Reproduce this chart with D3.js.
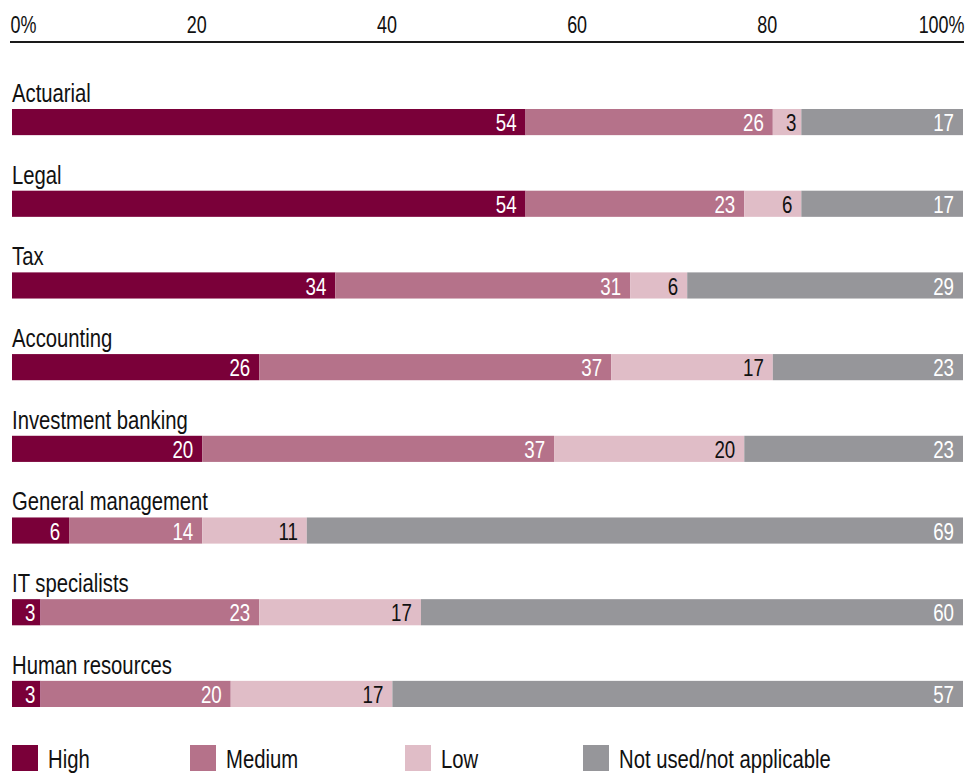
<!DOCTYPE html>
<html>
<head>
<meta charset="utf-8">
<script src="https://cdn.jsdelivr.net/npm/d3@7"></script>
<style>
  body { margin: 0; background: #fff; }
  text { font-family: "Liberation Sans", Arial, sans-serif; }
</style>
</head>
<body>
<div id="chart"></div>
<script>
// data
const categories = ["Actuarial", "Legal", "Tax", "Accounting", "Investment banking",
  "General management", "IT specialists", "Human resources"];
const seriesNames = ["High", "Medium", "Low", "Not used/not applicable"];
const high   = [54, 54, 34, 26, 20, 6, 3, 3];
const medium = [26, 23, 31, 37, 37, 14, 23, 20];
const low    = [3, 6, 6, 17, 20, 11, 17, 17];
const notUsed = [17, 17, 29, 23, 23, 69, 60, 57];
const tickValues = [0, 20, 40, 60, 80, 100];

const colors = ["#7a0039", "#b5728a", "#e0bdc7", "#96969a"];
const labelColors = ["#fff", "#fff", "#111", "#fff"];

const width = 966, height = 774;
const sx = 0.78; // squeeze text to look like a condensed face

const svg = d3.select("#chart")
  .append("svg")
  .attr("width", width)
  .attr("height", height);

// scales
const x = d3.scaleLinear().domain([0, 100]).range([12, 963]);
const y = d3.scaleBand().domain(categories).range([109, 707]).paddingInner(0.68).paddingOuter(0);

// top axis
const xAxis = d3.axisTop(x)
  .tickValues(tickValues)
  .tickSize(0)
  .tickPadding(9)
  .tickFormat(d => (d === 0 || d === 100) ? d + "%" : d);

const axisG = svg.append("g")
  .attr("transform", "translate(0,42)")
  .call(xAxis);

axisG.select(".domain").remove();
axisG.append("line")
  .attr("x1", 10).attr("x2", 964)
  .attr("stroke", "#1a1a1a").attr("stroke-width", 2);

axisG.selectAll(".tick text")
  .attr("fill", "#111")
  .style("font-size", "23px")
  .attr("text-anchor", d => d === 0 ? "start" : d === 100 ? "end" : "middle")
  .attr("x", d => d === 0 ? -2 : d === 100 ? 1 : -6)
  .attr("transform", `scale(${sx},1)`)
  .attr("x", function(d) {
    const off = d === 0 ? -2 : d === 100 ? 1 : -6;
    return off / sx;
  });

// build stacked rows
const rows = categories.map((c, i) => {
  const vals = [high[i], medium[i], low[i], notUsed[i]];
  let start = 0;
  return vals.map((v, k) => {
    let end = Math.min(100, start + v);
    if (k === vals.length - 1) end = 100; // last segment fills the bar
    const seg = { cat: c, k, value: v, x0: start, x1: end };
    start = end;
    return seg;
  });
});

// category labels
svg.selectAll(".cat-label")
  .data(categories)
  .enter().append("text")
  .attr("class", "cat-label")
  .attr("transform", d => `translate(12,${y(d) - 7}) scale(${sx},1)`)
  .attr("fill", "#111")
  .style("font-size", "26px")
  .text(d => d);

// bars
const rowG = svg.selectAll(".row")
  .data(rows)
  .enter().append("g")
  .attr("class", "row");

rowG.selectAll("rect")
  .data(d => d)
  .enter().append("rect")
  .attr("x", d => x(d.x0))
  .attr("y", d => y(d.cat))
  .attr("width", d => x(d.x1) - x(d.x0))
  .attr("height", y.bandwidth())
  .attr("fill", d => colors[d.k]);

rowG.selectAll("text")
  .data(d => d)
  .enter().append("text")
  .attr("transform", d => {
    const w = x(d.x1) - x(d.x0);
    const tx = x(d.x1) - (w < 30 ? 5 : 9);
    const ty = y(d.cat) + y.bandwidth() - 4;
    return `translate(${tx},${ty}) scale(${sx},1)`;
  })
  .attr("text-anchor", "end")
  .attr("fill", d => labelColors[d.k])
  .style("font-size", "24px")
  .text(d => d.value);

// legend
const legendX = [12, 190, 405, 583];
const legend = svg.selectAll(".legend")
  .data(seriesNames)
  .enter().append("g")
  .attr("class", "legend")
  .attr("transform", (d, i) => `translate(${legendX[i]},745)`);

legend.append("rect")
  .attr("width", 26)
  .attr("height", 26)
  .attr("fill", (d, i) => colors[i]);

legend.append("text")
  .attr("transform", `translate(36,23) scale(${sx},1)`)
  .attr("fill", "#111")
  .style("font-size", "26px")
  .text(d => d);
</script>
</body>
</html>
